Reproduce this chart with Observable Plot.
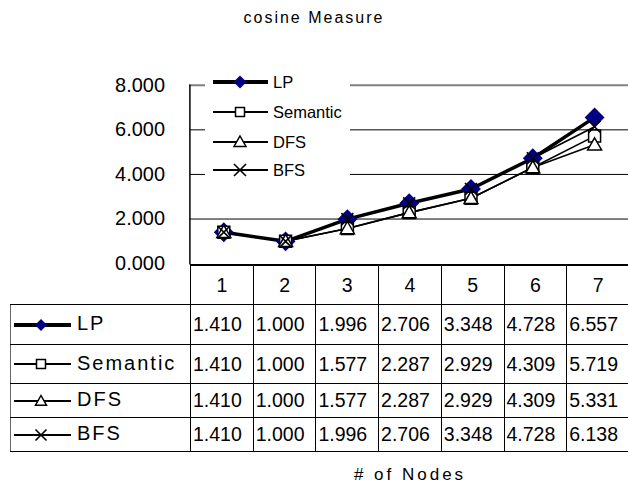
<!DOCTYPE html>
<html><head><meta charset="utf-8">
<script src="https://cdn.jsdelivr.net/npm/d3@7"></script>
<script src="https://cdn.jsdelivr.net/npm/@observablehq/plot@0.6"></script>
<style>
html,body{margin:0;padding:0;background:#fff;overflow:hidden}
#wrap{position:relative;width:628px;height:485px;overflow:hidden;font-family:"Liberation Sans",Arial,sans-serif;color:#000}
#title{position:absolute;left:0;width:628px;top:8px;text-align:center;font-size:16px;letter-spacing:2px;line-height:20px}
#chart{position:absolute;left:0;top:0}
#legend{position:absolute;left:205px;top:72px;width:145px;height:110px;background:#fff}
.li{position:absolute;left:8px;height:20px;display:flex;align-items:center;font-size:16.5px}
.li svg{margin-right:4px}
#tbl{position:absolute;left:10px;top:264px;width:620px;border-collapse:collapse;table-layout:fixed}
#tbl td{border:1px solid #000;padding:0 0 0 2px;font-size:19.5px;white-space:nowrap;overflow:hidden;line-height:20px}
#tbl td.blank{border:none;border-right:1px solid #000}
#tbl tr.hdr td{text-align:center;padding:0;border-top:2px solid #000}
#tbl tr.hdr td.blank{border-top:none}
#tbl td.lab{padding:0;font-size:20px;letter-spacing:2px;border-left:1px solid #666}
#tbl td.lab svg{vertical-align:middle;margin-right:4px}
#xlabel{position:absolute;top:465px;left:300px;width:220px;text-align:center;font-size:17px;letter-spacing:3px;line-height:20px}
</style></head><body>
<div id="wrap">
  <div id="chart"></div>
  <div id="title">cosine Measure</div>
  <div id="legend"></div>
  <table id="tbl"></table>
  <div id="xlabel"># of Nodes</div>
</div>
<script>
// ---- data ----
const nodes = ["1", "2", "3", "4", "5", "6", "7"];
const seriesNames = ["LP", "Semantic", "DFS", "BFS"];
const lp       = [1.410, 1.000, 1.996, 2.706, 3.348, 4.728, 6.557];
const semantic = [1.410, 1.000, 1.577, 2.287, 2.929, 4.309, 5.719];
const dfs      = [1.410, 1.000, 1.577, 2.287, 2.929, 4.309, 5.331];
const bfs      = [1.410, 1.000, 1.996, 2.706, 3.348, 4.728, 6.138];
const yTicks = [0, 2, 4, 6, 8];
const gridValues = [2, 4, 6];
const topGrid = [8];

const values = [lp, semantic, dfs, bfs];
const fmt = d3.format(".3f");

// ---- symbols (size -> half extent r) ----
const half = s => Math.sqrt(s / Math.PI);
const symDiamond = {draw(c, s){const r = half(s); c.moveTo(0,-r); c.lineTo(r,0); c.lineTo(0,r); c.lineTo(-r,0); c.closePath();}};
const symSquare = {draw(c, s){const r = half(s); c.moveTo(-r,-r); c.lineTo(r,-r); c.lineTo(r,r); c.lineTo(-r,r); c.closePath();}};
const symTriangle = {draw(c, s){const r = half(s); c.moveTo(0,-r); c.lineTo(r,r*0.75); c.lineTo(-r,r*0.75); c.closePath();}};
const symTimes = {draw(c, s){const r = half(s); c.moveTo(-r,-r); c.lineTo(r,r); c.moveTo(r,-r); c.lineTo(-r,r);}};

const styles = {
  LP:       {sym: symDiamond,  fill: "#000080", stroke: "none", lineW: 3.5, r: 10, lr: 6.5, sw: 0},
  Semantic: {sym: symSquare,   fill: "#fff",    stroke: "#000", lineW: 1.6, r: 6,  lr: 4.5, sw: 1.5},
  DFS:      {sym: symTriangle, fill: "#fff",    stroke: "#000", lineW: 1.6, r: 7,  lr: 6,   sw: 1.5},
  BFS:      {sym: symTimes,    fill: "none",    stroke: "#000", lineW: 1.6, r: 6,  lr: 6,   sw: 1.6}
};

const rows = [];
seriesNames.forEach((s, i) => values[i].forEach((v, j) => rows.push({series: s, node: nodes[j], value: v})));
const bySeries = s => rows.filter(d => d.series === s);

const lineMarks = seriesNames.map(s => Plot.line(bySeries(s), {x: "node", y: "value", stroke: "#000", strokeWidth: styles[s].lineW, strokeLinejoin: "round"}));
const dotMarks = seriesNames.map(s => Plot.dot(bySeries(s), {x: "node", y: "value", symbol: styles[s].sym, r: styles[s].r, fill: styles[s].fill, stroke: styles[s].stroke, strokeWidth: styles[s].sw}));

const chart = Plot.plot({
  width: 630, height: 266,
  marginTop: 85, marginBottom: 2, marginLeft: 190, marginRight: 0,
  style: {fontFamily: "Liberation Sans, Arial, sans-serif", fontSize: "20px", color: "#000", background: "transparent", overflow: "visible"},
  x: {type: "point", domain: nodes, padding: 0.5, axis: null, label: null},
  y: {domain: [0, 8], axis: null, label: null},
  marks: [
    Plot.ruleY(gridValues, {stroke: "#000", strokeWidth: 1}),
    Plot.ruleY(topGrid, {stroke: "#808080", strokeWidth: 2}),
    Plot.axisY(yTicks, {tickSize: 0, tickPadding: 25, tickFormat: fmt, fontSize: 20, label: null}),
    Plot.frame({anchor: "left", stroke: "#000", strokeWidth: 1.5}),
    ...lineMarks,
    ...dotMarks
  ]
});
document.getElementById("chart").appendChild(chart);

// ---- swatch helper ----
function swatch(s, w, h, x1, x2, cx, r) {
  const st = styles[s];
  const svg = d3.create("svg").attr("width", w).attr("height", h);
  svg.append("line").attr("x1", x1).attr("x2", x2).attr("y1", h/2).attr("y2", h/2)
    .attr("stroke", "#000").attr("stroke-width", s === "LP" ? 4 : 1.8);
  svg.append("path").attr("d", d3.symbol(st.sym, Math.PI * r * r)())
    .attr("transform", `translate(${cx},${h/2})`)
    .attr("fill", st.fill).attr("stroke", st.stroke).attr("stroke-width", st.sw);
  return svg.node();
}

// ---- in-chart legend ----
const legend = document.getElementById("legend");
const legendY = [0, 30, 60, 88];
seriesNames.forEach((s, i) => {
  const div = document.createElement("div");
  div.className = "li";
  div.style.top = legendY[i] + "px";
  div.appendChild(swatch(s, 56, 20, 0, 55, 27, styles[s].lr));
  div.appendChild(document.createTextNode(s));
  legend.appendChild(div);
});

// ---- data table ----
const tbl = d3.select("#tbl");
const cg = tbl.append("colgroup");
cg.append("col").style("width", "180px");
nodes.forEach(() => cg.append("col"));
const hdr = tbl.append("tr").attr("class", "hdr").style("height", "39px");
hdr.append("td").attr("class", "blank");
nodes.forEach(n => hdr.append("td").text(n));
const rowH = [40, 39, 34, 34];
seriesNames.forEach((s, i) => {
  const tr = tbl.append("tr").style("height", rowH[i] + "px");
  const lab = tr.append("td").attr("class", "lab");
  lab.node().appendChild(swatch(s, 62, 20, 3, 60, 30, s === "LP" ? 6 : (s === "Semantic" ? 4.5 : 5.5)));
  lab.append("span").text(s);
  values[i].forEach(v => tr.append("td").text(fmt(v)));
});
</script>
</body></html>
